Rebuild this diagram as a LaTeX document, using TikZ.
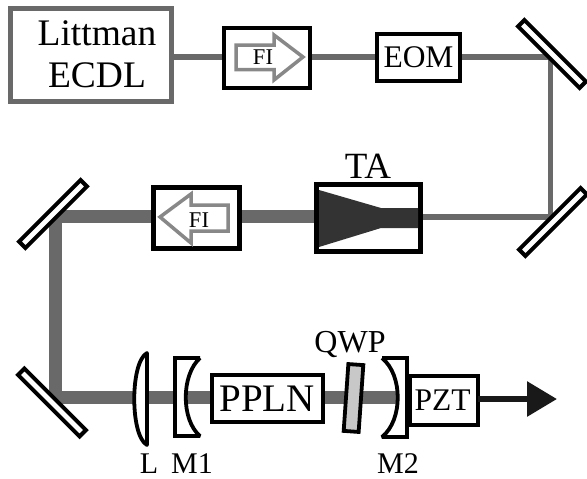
\documentclass[tikz,border=0pt]{standalone}
\usepackage{fontspec}
\setmainfont{Liberation Serif}
\usetikzlibrary{arrows.meta,backgrounds}
\definecolor{beamgray}{HTML}{696969}
\definecolor{arrowgray}{HTML}{888888}
\definecolor{plategray}{HTML}{C8C8C8}
\definecolor{chipdark}{HTML}{333333}
\tikzset{
    txt/.style={inner sep=0pt, outer sep=0pt, font=\fontsize{#1}{#1}\selectfont},
    optbox/.style={draw=black, fill=white, line width=4pt, inner sep=0pt, outer sep=0pt},
    mirror/.style={optbox, minimum width=87pt, minimum height=9pt},
    optic/.style={draw=black, fill=white, line width=3.8pt, line join=miter, miter limit=2},
    thinbeam/.style={draw=beamgray, line width=5.5pt},
    thickbeam/.style={draw=beamgray, line width=13pt},
    fiarrow/.style={draw=arrowgray, line width=3.5pt, line join=miter}
}
\begin{document}
\begin{tikzpicture}[x=1pt, y=-1pt]
    \useasboundingbox (0, 0) rectangle (587, 479);

    % ==================== LINE 1: SOURCE, FI, EOM ====================
    \node[optbox, draw=beamgray, line width=5pt, minimum width=161pt, minimum height=93pt] (ecdl) at (90.5, 55) {};
    \node[txt=37.5, align=center] (ecdltext) at (97, 54.5) {Littman\\[4pt]ECDL};

    \node[optbox, minimum width=86pt, minimum height=60pt] (fiA) at (267, 57.5) {};
    \draw[fiarrow] (236, 45) -- (274, 45) -- (274, 35) -- (303, 57) -- (274, 80) -- (274, 69.5) -- (236, 69.5) -- cycle;
    \node[txt=22.5, anchor=base] (fiAtext) at (263, 64) {FI};

    \node[optbox, minimum width=83pt, minimum height=47pt, txt=31.5] (eom) at (418.5, 57.5) {EOM};

    % ==================== MIRRORS ====================
    \node[mirror, rotate=-45] (mirrorA) at (552, 54) {};
    \node[mirror, rotate=45] (mirrorB) at (553, 222) {};
    \node[mirror, rotate=45] (mirrorC) at (53, 214) {};
    \node[mirror, rotate=-45] (mirrorD) at (52, 402.5) {};

    % ==================== LINE 2: TA, FI ====================
    \node[optbox, line width=5pt, minimum width=104pt, minimum height=67pt] (ta) at (368.5, 218) {};
    \fill[chipdark] (319, 190) -- (381, 208) -- (418, 208) -- (418, 228) -- (381, 228) -- (319, 247) -- cycle;
    \node[txt=37, anchor=base] (tatext) at (368, 178) {TA};

    \node[optbox, line width=4.5pt, minimum width=86pt, minimum height=61pt] (fiB) at (196.5, 218) {};
    \draw[fiarrow] (228, 205) -- (191, 205) -- (191, 194) -- (160, 217) -- (191, 243) -- (191, 231) -- (228, 231) -- cycle;
    \node[txt=22.5, anchor=base] (fiBtext) at (199, 227) {FI};

    % ==================== LINE 3: CAVITY ====================
    % Lens L
    \draw[optic, line join=round] (147, 353) .. controls (130, 362) and (130, 436) .. (147, 445) -- cycle;
    % Mirror M1
    \draw[optic] (200, 358) -- (175, 358) -- (175, 436) -- (200, 436) .. controls (181, 420) and (181, 375) .. (200, 358);
    % Crystal
    \node[optbox, minimum width=111pt, minimum height=47pt, txt=39] (ppln) at (267, 398.5) {PPLN};
    % Plate
    \node[optbox, fill=plategray, rotate=-4, line width=3.8pt, minimum width=15pt, minimum height=67pt] (qwp) at (353.5, 398) {};
    % Mirror M2
    \draw[optic] (382, 358) -- (407, 358) -- (407, 437) -- (382, 437) .. controls (403, 420) and (403, 375) .. (382, 358);
    \node[optbox, minimum width=68pt, minimum height=49pt, txt=31.5] (pzt) at (444, 400.5) {\hspace{-3pt}PZT};

    \coordinate (out) at (557, 399);
    \draw[line width=6pt, color=black!90, -{Triangle[length=30pt, width=34pt]}] (pzt.east |- out) -- (out);

    % Labels
    \node[txt=32, anchor=base] (qwptext) at (350, 352) {QWP};
    \node[txt=30, anchor=base] (ltext) at (149, 473) {L};
    \node[txt=30, anchor=base] (mAtext) at (192, 473) {M1};
    \node[txt=30, anchor=base] (mBtext) at (398, 473) {M2};

    % ==================== BEAMS ====================
    \begin{scope}[on background layer]
        \coordinate (cornerA) at (550.5, 57);
        \coordinate (cornerB) at (550.5, 217);
        \coordinate (cornerC) at (55.5, 216.5);
        \coordinate (cornerD) at (55.5, 397.5);
        \draw[thinbeam] (ecdl.east |- cornerA) -- (fiA.west |- cornerA);
        \draw[thinbeam] (fiA.east |- cornerA) -- (eom.west |- cornerA);
        \draw[thinbeam] (eom.east |- cornerA) -- (cornerA) -- (cornerB) -- (ta.east |- cornerB);
        \draw[thickbeam] (ta.west |- cornerC) -- (fiB.east |- cornerC);
        \draw[thickbeam] (fiB.west |- cornerC) -- (cornerC) -- (cornerD) -- (pzt.west |- cornerD);
    \end{scope}
\end{tikzpicture}
\end{document}
